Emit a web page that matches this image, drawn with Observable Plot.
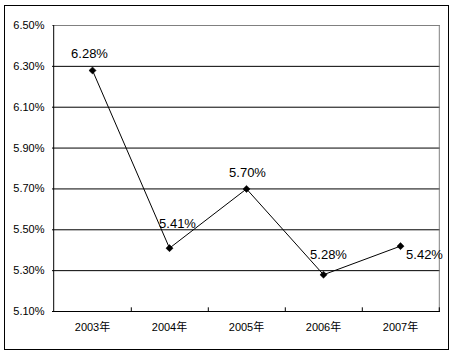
<!DOCTYPE html>
<html>
<head>
<meta charset="utf-8">
<script src="https://cdn.jsdelivr.net/npm/d3@7"></script>
<script src="https://cdn.jsdelivr.net/npm/@observablehq/plot@0.6"></script>
<style>
  html, body { margin: 0; padding: 0; background: #fff; }
  #wrap { position: relative; width: 454px; height: 355px; }
  #border { position: absolute; left: 4px; top: 5px; width: 443px; height: 343px; border: 1px solid #000; pointer-events: none; }
</style>
</head>
<body>
<div id="wrap"><div id="border"></div></div>
<script>
const years = ["2003年", "2004年", "2005年", "2006年", "2007年"];
const rates = [6.28, 5.41, 5.70, 5.28, 5.42];
const rateLabels = ["6.28%", "5.41%", "5.70%", "5.28%", "5.42%"];
const yTicks = [5.10, 5.30, 5.50, 5.70, 5.90, 6.10, 6.30, 6.50];
const yTickLabels = ["5.10%", "5.30%", "5.50%", "5.70%", "5.90%", "6.10%", "6.30%", "6.50%"];

const data = years.map((y, i) => ({year: y, rate: rates[i], label: rateLabels[i]}));
const font = "'Liberation Sans', 'Noto Sans CJK SC', sans-serif";

const labelOffsets = [[-3, -17], [8, -24], [1, -16], [5, -20], [24, 9]];

const chart = Plot.plot({
  width: 454,
  height: 355,
  marginLeft: 52,
  marginRight: 14,
  marginTop: 25,
  marginBottom: 44,
  style: {fontFamily: font, fontSize: "11px", color: "#000", background: "transparent"},
  x: {type: "point", domain: years, padding: 0.5, label: null},
  y: {domain: [5.10, 6.50], label: null},
  marks: [
    Plot.ruleY(yTicks.filter(t => t > 5.11 && t < 6.49), {stroke: "#000", strokeWidth: 1}),
    Plot.ruleY([6.50], {stroke: "#808080", strokeWidth: 1}),
    Plot.ruleX([years[4]], {dx: 38.8, y1: 5.10, y2: 6.50, stroke: "#808080", strokeWidth: 1}),
    Plot.ruleY([5.10], {stroke: "#000", strokeWidth: 1}),
    Plot.ruleX([years[0]], {dx: -38.8, y1: 5.10, y2: 6.50, stroke: "#000", strokeWidth: 1}),
    Plot.ruleX(years, {dx: 38.8, y1: 5.10, y2: 5.118, stroke: "#000", strokeWidth: 1}),
    Plot.axisY({ticks: yTicks, tickFormat: (d, i) => yTickLabels[yTicks.indexOf(d)], tickSize: 0, tickPadding: 8, fontSize: 11}),
    Plot.axisX({tickSize: 0, tickPadding: 12, fontSize: 11}),
    Plot.line(data, {x: "year", y: "rate", stroke: "#000", strokeWidth: 1}),
    Plot.dot(data, {x: "year", y: "rate", symbol: "diamond2", r: 3.2, fill: "#000", stroke: "#000", strokeWidth: 0.5}),
    ...labelOffsets.map(([dx, dy], k) =>
      Plot.text(data, {filter: (d, i) => i === k, x: "year", y: "rate", text: "label", dx, dy, fontSize: 13, fill: "#000"})
    )
  ]
});
document.getElementById("wrap").prepend(chart);
</script>
</body>
</html>
